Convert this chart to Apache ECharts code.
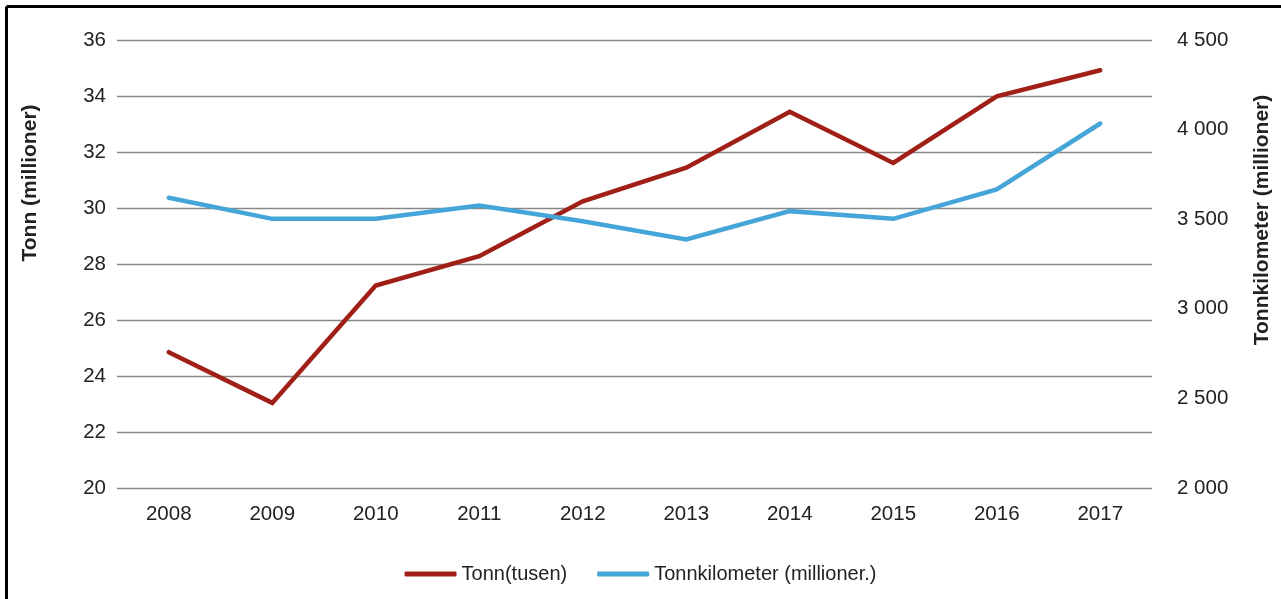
<!DOCTYPE html>
<html>
<head>
<meta charset="utf-8">
<script src="https://cdn.jsdelivr.net/npm/echarts@6/dist/echarts.min.js"></script>
<style>
  html, body { margin: 0; padding: 0; background: #fff; }
  #chart { width: 1281px; height: 599px; }
</style>
</head>
<body>
<div id="chart"></div>
<script>
// data
const years = ['2008', '2009', '2010', '2011', '2012', '2013', '2014', '2015', '2016', '2017']
const tonn = [24.85, 23.04, 27.23, 28.28, 30.24, 31.44, 33.44, 31.61, 33.99, 34.92]
const tonnkm = [3620, 3502, 3502, 3576, 3489, 3387, 3545, 3502, 3666, 4034]

const chart = echarts.init(document.getElementById('chart'))

const font = 'Liberation Sans, Arial, sans-serif'

// tall som "4 500"
const spaceThousands = v => {
  const s = String(Math.round(v))
  return s.replace(/\B(?=(\d{3})+(?!\d))/g, ' ')
}

const option = {
  backgroundColor: '#fff',
  animation: false,
  textStyle: { fontFamily: font },
  grid: {
    left: 117,
    right: 129,
    top: 40,
    height: 448
  },
  legend: {
    left: 'center',
    top: 559,
    icon: 'roundRect',
    itemWidth: 52,
    itemHeight: 5,
    itemGap: 30,
    textStyle: { fontSize: 20, color: '#222', fontFamily: font },
    data: ['Tonn(tusen)', 'Tonnkilometer (millioner.)']
  },
  xAxis: {
    type: 'category',
    data: years,
    boundaryGap: true,
    axisLine: { show: false },
    axisTick: { show: false },
    axisLabel: { fontSize: 20.5, color: '#222', margin: 16 }
  },
  yAxis: [
    {
      type: 'value',
      min: 20,
      max: 36,
      interval: 2,
      axisLine: { show: false },
      axisTick: { show: false },
      axisLabel: { fontSize: 20.5, color: '#222', margin: 11 },
      splitLine: { lineStyle: { color: '#878787', width: 1.3 } }
    },
    {
      type: 'value',
      min: 2000,
      max: 4500,
      interval: 500,
      position: 'right',
      axisLine: { show: false },
      axisTick: { show: false },
      splitLine: { show: false },
      axisLabel: {
        fontSize: 20.5,
        color: '#222',
        margin: 25,
        formatter: spaceThousands
      }
    }
  ],
  series: [
    {
      name: 'Tonn(tusen)',
      type: 'line',
      yAxisIndex: 0,
      data: tonn,
      symbol: 'none',
      itemStyle: { color: '#a01f16' },
      lineStyle: { color: '#a01f16', width: 4.5, cap: 'round', join: 'miter' }
    },
    {
      name: 'Tonnkilometer (millioner.)',
      type: 'line',
      yAxisIndex: 1,
      data: tonnkm,
      symbol: 'none',
      itemStyle: { color: '#45a5d8' },
      lineStyle: { color: '#45a5d8', width: 4.5, cap: 'round', join: 'miter' }
    }
  ],
  graphic: [
    // ramme oppe og til venstre
    { type: 'line', shape: { x1: 6.5, y1: 6.5, x2: 1281, y2: 6.5 }, style: { stroke: '#000', lineWidth: 3 } },
    { type: 'line', shape: { x1: 6.5, y1: 6.5, x2: 6.5, y2: 599 }, style: { stroke: '#000', lineWidth: 3 } },
    // aksetitler
    {
      type: 'text',
      x: 30,
      y: 183,
      rotation: Math.PI / 2,
      style: {
        text: 'Tonn (millioner)',
        fontSize: 21,
        fontWeight: 'bold',
        fontFamily: font,
        fill: '#222',
        align: 'center',
        verticalAlign: 'middle'
      }
    },
    {
      type: 'text',
      x: 1262,
      y: 220,
      rotation: Math.PI / 2,
      style: {
        text: 'Tonnkilometer (millioner)',
        fontSize: 21,
        fontWeight: 'bold',
        fontFamily: font,
        fill: '#222',
        align: 'center',
        verticalAlign: 'middle'
      }
    }
  ]
}

chart.setOption(option)
</script>
</body>
</html>
